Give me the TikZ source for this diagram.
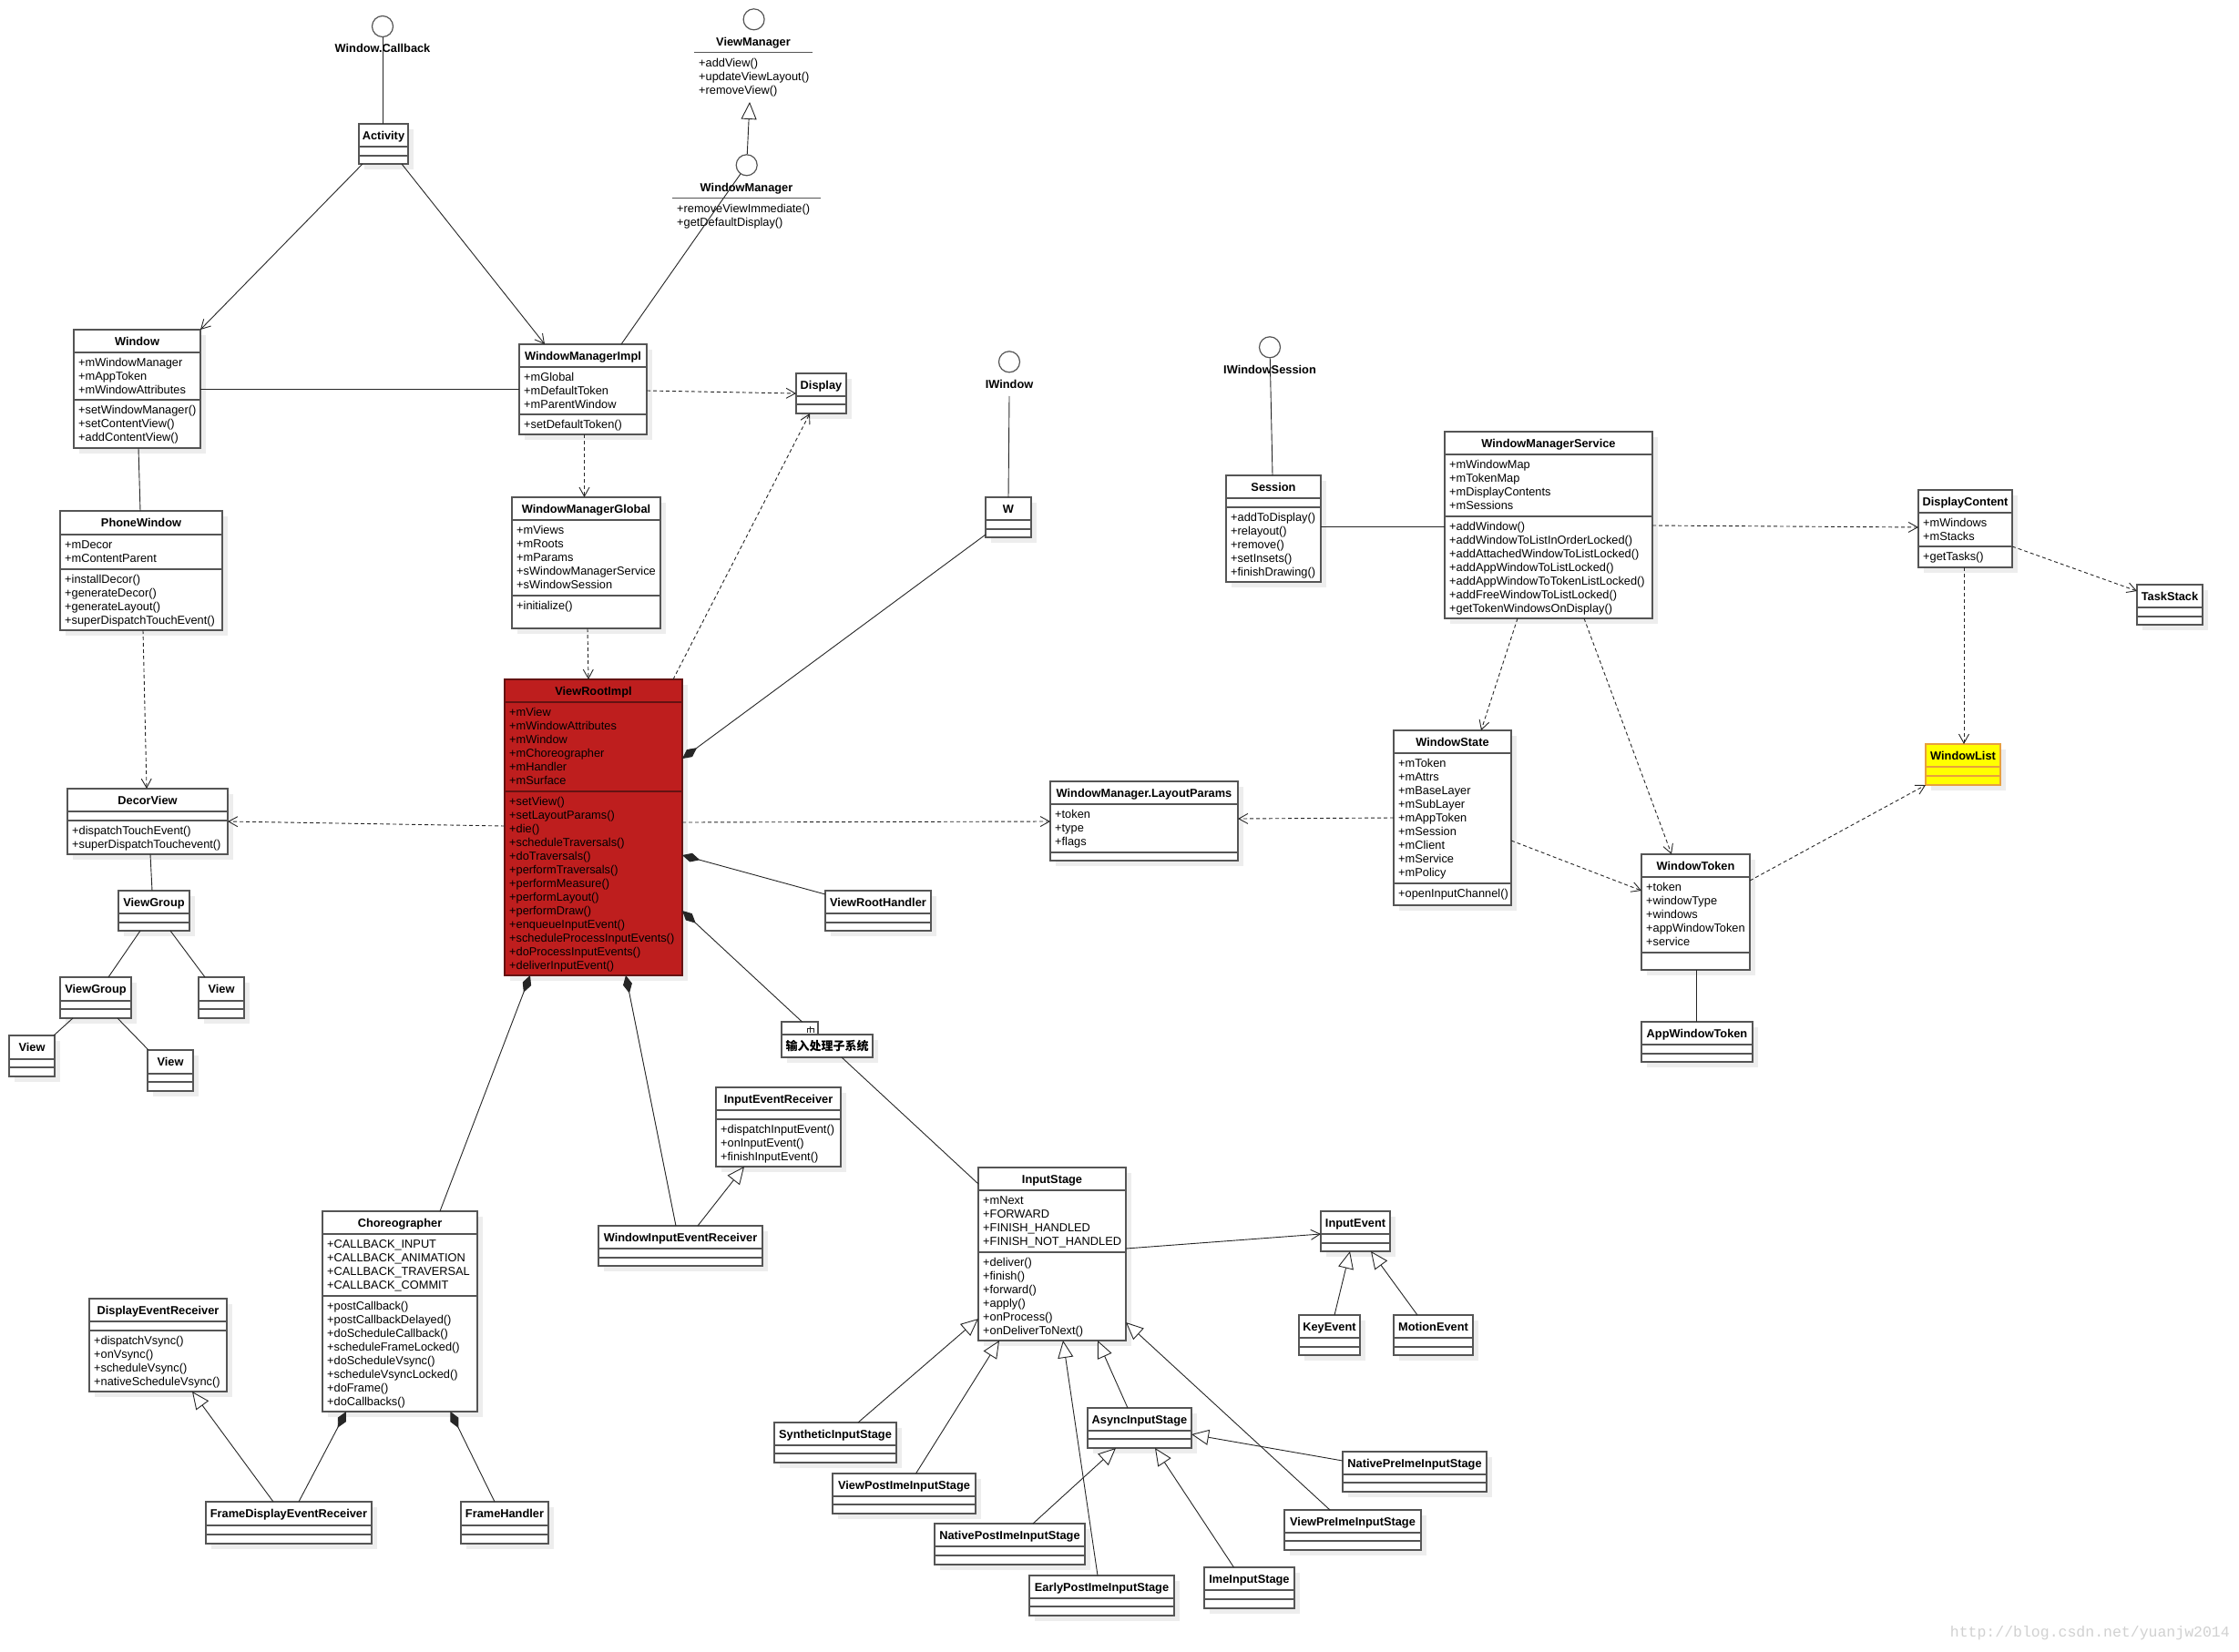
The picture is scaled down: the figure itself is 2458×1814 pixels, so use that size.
\documentclass[tikz,border=0pt]{standalone}
\usepackage{fontspec}
\setmainfont{Liberation Sans}
\newfontfamily\cjk{Noto Sans CJK SC}
\newfontfamily\wmfont{Liberation Mono}
\usetikzlibrary{arrows.meta}
\definecolor{vrired}{RGB}{190,30,30}
\definecolor{vriline}{RGB}{100,18,18}
\definecolor{wlyellow}{RGB}{255,255,0}
\definecolor{wlorange}{RGB}{232,160,60}
\definecolor{boxgray}{RGB}{85,85,85}
\tikzset{
 box/.style={draw=boxgray,line width=1.3pt,fill=white,inner sep=0pt,outer sep=0pt,rectangle},
 sepline/.style={draw=boxgray,line width=1.3pt},
 redbox/.style={draw=vriline,fill=vrired},
 yelbox/.style={draw=wlorange,fill=wlyellow},
 titlef/.style={font=\fontsize{12.8}{15}\selectfont\bfseries,anchor=base,inner sep=0pt},
 rowf/.style={font=\fontsize{12.8}{15}\selectfont,anchor=base west,inner sep=0pt},
 shadowc/.style={fill=black!7},
 conn/.style={draw=black!85,line width=0.9pt},
 nav/.style={conn,-{Straight Barb[length=10pt,width=11pt]}},
 dep/.style={conn,dash pattern=on 4pt off 3pt,-{Straight Barb[length=10pt,width=11pt]}},
 gen/.style={conn,-{Triangle[length=19pt,width=17pt,fill=white]}},
 comp/.style={conn,{Diamond[length=20pt,width=10pt]}-},
 iface/.style={circle,draw=boxgray,line width=1.2pt,fill=white,minimum size=23pt,inner sep=0pt},
}
% id, x1, y1, x2, y2, sep1, sep2, title, style
\newcommand\umlclass[9]{%
  \fill[shadowc] (#2+6,#3+6) rectangle (#4+6,#5+6);
  \node[box,#9,minimum width={#4-#2},minimum height={#5-#3},anchor=north west] (#1) at (#2,#3) {};
  \draw[sepline,#9] (#2,#6) -- (#4,#6) (#2,#7) -- (#4,#7);
  \node[titlef] at ({(#2+#4)/2},{#3+17.4}) {#8};
}
\newcommand\umlrows[3]{%
  \foreach \rr [count=\nn] in {#3}{\node[rowf] at ({#1+5},{#2+15.8+15*\nn-15}) {\rr};}%
}
\begin{document}
\begin{tikzpicture}[x=1pt,y=-1pt]
\useasboundingbox (0,0) rectangle (2458,1814);
\fill[white] (0,0) rectangle (2458,1814);

% ---------- interfaces ----------
\node[iface] (wcb) at (420,29) {};
\node[titlef] (wcblabel) at (420,57.9) {Window.Callback};
\node[iface] (vmc) at (827.6,21.3) {};
\node[titlef] (vmlabel) at (827,50.3) {ViewManager};
\draw[sepline] (762,57.7) -- (892,57.7);
\umlrows{762}{57.7}{+addView(),+updateViewLayout(),+removeView()}
\node[iface] (wmc) at (819.7,181.3) {};
\node[titlef] (wmlabel) at (819.5,210.3) {WindowManager};
\draw[sepline] (738,217.7) -- (901,217.7);
\umlrows{738}{217.7}{+removeViewImmediate(),+getDefaultDisplay()}
\node[iface] (iwc) at (1108,397.3) {};
\node[titlef] (iwlabel) at (1108,426.3) {IWindow};
\node[iface] (iwsc) at (1394,381.3) {};
\node[titlef] (iwslabel) at (1394,410.3) {IWindowSession};
\coordinate (vmtip) at (823,112);
\coordinate (iwl) at (1108,435);

% ---------- classes ----------
\umlclass{activity}{394}{136}{448}{180}{161}{171}{Activity}{}
\umlclass{window}{81}{362}{220}{492}{387}{439}{Window}{}
\umlrows{81}{387}{+mWindowManager,+mAppToken,+mWindowAttributes}
\umlrows{81}{439}{+setWindowManager(),+setContentView(),+addContentView()}
\umlclass{phonewindow}{66}{561}{244}{692}{587}{625}{PhoneWindow}{}
\umlrows{66}{587}{+mDecor,+mContentParent}
\umlrows{66}{625}{+installDecor(),+generateDecor(),+generateLayout(),+superDispatchTouchEvent()}
\umlclass{wmi}{570}{378}{710}{477}{403}{455}{WindowManagerImpl}{}
\umlrows{570}{403}{+mGlobal,+mDefaultToken,+mParentWindow}
\umlrows{570}{455}{+setDefaultToken()}
\umlclass{display}{874}{410}{929}{454}{435}{444}{Display}{}
\umlclass{wmg}{562}{546}{725}{690}{571}{654}{WindowManagerGlobal}{}
\umlrows{562}{571}{+mViews,+mRoots,+mParams,+sWindowManagerService,+sWindowSession}
\umlrows{562}{654}{+initialize()}
\umlclass{vri}{554}{746}{749}{1071}{771}{869}{ViewRootImpl}{redbox}
\umlrows{554}{771}{+mView,+mWindowAttributes,+mWindow,+mChoreographer,+mHandler,+mSurface}
\umlrows{554}{869}{+setView(),+setLayoutParams(),+die(),+scheduleTraversals(),+doTraversals(),+performTraversals(),+performMeasure(),+performLayout(),+performDraw(),+enqueueInputEvent(),+scheduleProcessInputEvents(),+doProcessInputEvents(),+deliverInputEvent()}
\umlclass{decorview}{74}{866}{250}{938}{891}{901}{DecorView}{}
\umlrows{74}{901}{+dispatchTouchEvent(),+superDispatchTouchevent()}
\umlclass{vg1}{130}{978}{208}{1022}{1003}{1013}{ViewGroup}{}
\umlclass{vg2}{66}{1073}{144}{1118}{1099}{1108}{ViewGroup}{}
\umlclass{viewr}{218}{1073}{268}{1118}{1099}{1108}{View}{}
\umlclass{viewbl}{10}{1137}{60}{1182}{1163}{1172}{View}{}
\umlclass{viewbm}{162}{1153}{212}{1198}{1179}{1188}{View}{}
\umlclass{w}{1082}{546}{1132}{590}{571}{581}{W}{}
\umlclass{vrh}{906}{978}{1022}{1022}{1003}{1013}{ViewRootHandler}{}
\umlclass{session}{1346}{522}{1450}{639}{547}{557}{Session}{}
\umlrows{1346}{557}{+addToDisplay(),+relayout(),+remove(),+setInsets(),+finishDrawing()}
\umlclass{wms}{1586}{474}{1814}{679}{499}{567}{WindowManagerService}{}
\umlrows{1586}{499}{+mWindowMap,+mTokenMap,+mDisplayContents,+mSessions}
\umlrows{1586}{567}{+addWindow(),+addWindowToListInOrderLocked(),+addAttachedWindowToListLocked(),+addAppWindowToListLocked(),+addAppWindowToTokenListLocked(),+addFreeWindowToListLocked(),+getTokenWindowsOnDisplay()}
\umlclass{displaycontent}{2106}{538}{2209}{623}{563}{600}{DisplayContent}{}
\umlrows{2106}{563}{+mWindows,+mStacks}
\umlrows{2106}{600}{+getTasks()}
\umlclass{taskstack}{2346}{642}{2418}{686}{667}{677}{TaskStack}{}
\umlclass{windowlist}{2114}{817}{2196}{862}{842}{852}{WindowList}{yelbox}
\umlclass{layoutparams}{1153}{858}{1359}{945}{883}{936}{WindowManager.LayoutParams}{}
\umlrows{1153}{883}{+token,+type,+flags}
\umlclass{windowstate}{1530}{802}{1659}{994}{827}{970}{WindowState}{}
\umlrows{1530}{827}{+mToken,+mAttrs,+mBaseLayer,+mSubLayer,+mAppToken,+mSession,+mClient,+mService,+mPolicy}
\umlrows{1530}{970}{+openInputChannel()}
\umlclass{windowtoken}{1802}{938}{1921}{1065}{963}{1046}{WindowToken}{}
\umlrows{1802}{963}{+token,+windowType,+windows,+appWindowToken,+service}
\umlclass{appwindowtoken}{1802}{1122}{1924}{1166}{1147}{1157}{AppWindowToken}{}
\umlclass{choreographer}{354}{1330}{524}{1550}{1355}{1423}{Choreographer}{}
\umlrows{354}{1355}{+CALLBACK\_INPUT,+CALLBACK\_ANIMATION,+CALLBACK\_TRAVERSAL,+CALLBACK\_COMMIT}
\umlrows{354}{1423}{+postCallback(),+postCallbackDelayed(),+doScheduleCallback(),+scheduleFrameLocked(),+doScheduleVsync(),+scheduleVsyncLocked(),+doFrame(),+doCallbacks()}
\umlclass{der}{98}{1426}{249}{1528}{1451}{1461}{DisplayEventReceiver}{}
\umlrows{98}{1461}{+dispatchVsync(),+onVsync(),+scheduleVsync(),+nativeScheduleVsync()}
\umlclass{fder}{226}{1649}{408}{1695}{1675}{1685}{FrameDisplayEventReceiver}{}
\umlclass{framehandler}{506}{1649}{602}{1695}{1675}{1685}{FrameHandler}{}
\umlclass{ier}{786}{1194}{923}{1281}{1219}{1229}{InputEventReceiver}{}
\umlrows{786}{1229}{+dispatchInputEvent(),+onInputEvent(),+finishInputEvent()}
\umlclass{wier}{657}{1346}{837}{1390}{1371}{1381}{WindowInputEventReceiver}{}
\umlclass{inputstage}{1074}{1282}{1236}{1472}{1307}{1375}{InputStage}{}
\umlrows{1074}{1307}{+mNext,+FORWARD,+FINISH\_HANDLED,+FINISH\_NOT\_HANDLED}
\umlrows{1074}{1375}{+deliver(),+finish(),+forward(),+apply(),+onProcess(),+onDeliverToNext()}
\umlclass{inputevent}{1450}{1330}{1526}{1374}{1355}{1365}{InputEvent}{}
\umlclass{keyevent}{1426}{1444}{1493}{1488}{1469}{1479}{KeyEvent}{}
\umlclass{motionevent}{1530}{1444}{1617}{1488}{1469}{1479}{MotionEvent}{}
\umlclass{synthetic}{850}{1562}{984}{1606}{1587}{1596}{SyntheticInputStage}{}
\umlclass{viewpostime}{914}{1618}{1071}{1662}{1643}{1652}{ViewPostImeInputStage}{}
\umlclass{async}{1194}{1546}{1308}{1590}{1571}{1580}{AsyncInputStage}{}
\umlclass{nativepostime}{1026}{1673}{1191}{1718}{1698}{1708}{NativePostImeInputStage}{}
\umlclass{earlypostime}{1130}{1730}{1289}{1774}{1755}{1764}{EarlyPostImeInputStage}{}
\umlclass{imeinput}{1322}{1721}{1421}{1766}{1746}{1756}{ImeInputStage}{}
\umlclass{nativepreime}{1474}{1594}{1632}{1638}{1619}{1628}{NativePreImeInputStage}{}
\umlclass{viewpreime}{1410}{1658}{1560}{1702}{1683}{1692}{ViewPreImeInputStage}{}

% ---------- package ----------
\fill[shadowc] (864,1142) rectangle (964,1167);
\node[box,minimum width=40,minimum height=14,anchor=north west] (pkgtab) at (858,1122) {};
\node[box,minimum width=100,minimum height=25,anchor=north west] (pkg) at (858,1136) {};
\draw[conn,line width=0.8pt] (886.5,1133.5) -- (886.5,1129.5) -- (893,1129.5) -- (893,1133.5) (889.75,1126.5) -- (889.75,1133.5);
\node[font=\cjk\bfseries\fontsize{13}{15}\selectfont,inner sep=0pt] (pkglabel) at (908,1149) {输入处理子系统};

% ---------- connectors ----------
\draw[conn] (wcb) -- (activity.north -| wcb);
\draw[nav] (activity.south -| 398,0) -- (window.north east);
\draw[nav] (activity.south -| 441,0) -- (wmi.north -| 598,0);
\draw[gen] (wmc) -- (vmtip);
\draw[conn] (wmi.north -| 682,0) -- (wmc);
\draw[conn] (window.east |- 0,427) -- (wmi.west |- 0,427);
\draw[conn] (window.south -| 152,0) -- (phonewindow.north -| 154,0);
\draw[dep] (wmi.east |- 0,429) -- (display.west |- 0,432);
\draw[dep] (wmi.south -| 641.5,0) -- (wmg.north -| 641.5,0);
\draw[dep] (wmg.south -| 645,0) -- (vri.north -| 646,0);
\draw[dep] (vri.north -| 739,0) -- (display.south -| 889,0);
\draw[dep] (phonewindow.south -| 157,0) -- (decorview.north -| 161,0);
\draw[dep] (vri.west |- 0,907) -- (decorview.east |- 0,902);
\draw[dep] (vri.east |- 0,903) -- (layoutparams.west |- 0,902);
\draw[comp] (vri.east |- 0,833) -- (w.west |- 0,587);
\draw[conn] (iwl) -- (w.north);
\draw[comp] (vri.east |- 0,939) -- (vrh.west |- 0,982);
\draw[comp] (vri.east |- 0,1000) -- (pkgtab.north -| 880.5,0);
\draw[comp] (vri.south -| 582,0) -- (choreographer.north -| 483,0);
\draw[comp] (vri.south -| 687,0) -- (wier.north -| 742,0);
\draw[gen] (wier.north -| 766,0) -- (ier.south -| 817,0);
\draw[conn] (pkg.south -| 924,0) -- (inputstage.west |- 0,1300);
\draw[nav] (inputstage.east |- 0,1371) -- (inputevent.west |- 0,1355);
\draw[gen] (keyevent.north -| 1465,0) -- (inputevent.south -| 1482,0);
\draw[gen] (motionevent.north -| 1556,0) -- (inputevent.south -| 1505,0);
\draw[gen] (synthetic.north -| 942,0) -- (inputstage.west |- 0,1448);
\draw[gen] (viewpostime.north -| 1005.5,0) -- (inputstage.south -| 1097,0);
\draw[gen] (earlypostime.north -| 1205,0) -- (inputstage.south -| 1167,0);
\draw[gen] (async.north -| 1238,0) -- (inputstage.south -| 1205,0);
\draw[gen] (viewpreime.north -| 1460,0) -- (inputstage.east |- 0,1452);
\draw[gen] (nativepostime.north -| 1134,0) -- (async.south -| 1225,0);
\draw[gen] (imeinput.north -| 1354.5,0) -- (async.south -| 1268,0);
\draw[gen] (nativepreime.west |- 0,1604) -- (async.east |- 0,1575);
\draw[comp] (choreographer.south -| 380,0) -- (fder.north -| 328,0);
\draw[comp] (choreographer.south -| 494.5,0) -- (framehandler.north -| 543,0);
\draw[gen] (fder.north -| 300,0) -- (der.south -| 211,0);
\draw[conn] (decorview.south -| 165,0) -- (vg1.north -| 167,0);
\draw[conn] (vg1.south -| 154,0) -- (vg2.north -| 119,0);
\draw[conn] (vg1.south -| 187,0) -- (viewr.north -| 225,0);
\draw[conn] (vg2.south -| 80,0) -- (viewbl.north -| 59,0);
\draw[conn] (vg2.south -| 129,0) -- (viewbm.north -| 163,0);
\draw[conn] (iwsc) -- (session.north -| 1397,0);
\draw[conn] (session.east |- 0,578) -- (wms.west |- 0,578);
\draw[dep] (wms.east |- 0,577) -- (displaycontent.west |- 0,579);
\draw[dep] (displaycontent.east |- 0,600) -- (taskstack.west |- 0,649);
\draw[dep] (displaycontent.south -| 2156,0) -- (windowlist.north -| 2156,0);
\draw[dep] (wms.south -| 1666,0) -- (windowstate.north -| 1626,0);
\draw[dep] (wms.south -| 1739,0) -- (windowtoken.north -| 1835,0);
\draw[dep] (windowstate.west |- 0,898) -- (layoutparams.east |- 0,899);
\draw[dep] (windowstate.east |- 0,923) -- (windowtoken.west |- 0,978);
\draw[dep] (windowtoken.east |- 0,967) -- (windowlist.south west);
\draw[conn] (windowtoken.south -| 1862,0) -- (appwindowtoken.north -| 1862,0);

% ---------- watermark ----------
\node[anchor=base east,inner sep=0pt,font=\wmfont\fontsize{16.5}{16.5}\selectfont,text=black!18] (wmark) at (2448,1797) {http://blog.csdn.net/yuanjw2014};
\end{tikzpicture}
\end{document}
